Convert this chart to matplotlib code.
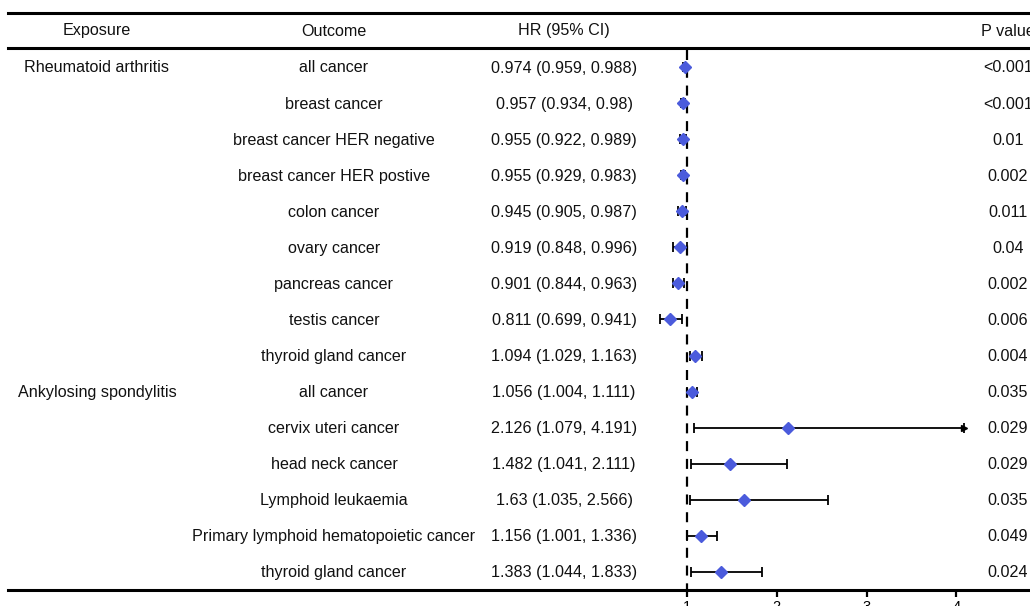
import numpy as np
import matplotlib
matplotlib.use('Agg')
import matplotlib.pyplot as plt

plt.rcParams['font.family'] = ['Liberation Sans', 'DejaVu Sans']

# Table data
exposure = ['Rheumatoid arthritis', '', '', '', '', '', '', '', '',
            'Ankylosing spondylitis', '', '', '', '', '']
outcome = ['all cancer', 'breast cancer', 'breast cancer HER negative', 'breast cancer HER postive',
           'colon cancer', 'ovary cancer', 'pancreas cancer', 'testis cancer', 'thyroid gland cancer',
           'all cancer', 'cervix uteri cancer', 'head neck cancer', 'Lymphoid leukaemia',
           'Primary lymphoid hematopoietic cancer', 'thyroid gland cancer']
hr = [0.974, 0.957, 0.955, 0.955, 0.945, 0.919, 0.901, 0.811, 1.094,
      1.056, 2.126, 1.482, 1.63, 1.156, 1.383]
lower = [0.959, 0.934, 0.922, 0.929, 0.905, 0.848, 0.844, 0.699, 1.029,
         1.004, 1.079, 1.041, 1.035, 1.001, 1.044]
upper = [0.988, 0.98, 0.989, 0.983, 0.987, 0.996, 0.963, 0.941, 1.163,
         1.111, 4.191, 2.111, 2.566, 1.336, 1.833]
hr_text = ['0.974 (0.959, 0.988)', '0.957 (0.934, 0.98)', '0.955 (0.922, 0.989)', '0.955 (0.929, 0.983)',
           '0.945 (0.905, 0.987)', '0.919 (0.848, 0.996)', '0.901 (0.844, 0.963)', '0.811 (0.699, 0.941)',
           '1.094 (1.029, 1.163)', '1.056 (1.004, 1.111)', '2.126 (1.079, 4.191)', '1.482 (1.041, 2.111)',
           '1.63 (1.035, 2.566)', '1.156 (1.001, 1.336)', '1.383 (1.044, 1.833)']
pvals = ['<0.001', '<0.001', '0.01', '0.002', '0.011', '0.04', '0.002', '0.006', '0.004',
         '0.035', '0.029', '0.029', '0.035', '0.049', '0.024']
headers = ['Exposure', 'Outcome', 'HR (95% CI)', 'P value']
xticks = [1, 2, 3, 4]
clip_max = 4.09

W, H = 1030, 606
fig = plt.figure(figsize=(W / 100, H / 100), dpi=100)
ax = fig.add_axes([0, 0, 1, 1])

# pixel mapping: value 1 at 687 px, 89.8 px per unit; row 0 at 67 px, 36.07 px per row
px_unit = 89.8
xmin = 1 - 687 / px_unit
xmax = 1 + (W - 687) / px_unit
row_h = 36.07
ax.set_xlim(xmin, xmax)
ax.set_ylim((H - 67) / row_h, -67 / row_h)

n = len(hr)
rows = np.arange(n)
tr = ax.get_yaxis_transform()
fs = 11.6
tc = '#111111'
dy = 1.0 / row_h  # nudge text one pixel down

# columns (x in figure pixels)
col_x = [97, 334, 564, 1008]
for cx, h in zip(col_x, headers):
    ax.text(cx / W, (30 - 67) / row_h + dy, h, transform=tr, ha='center', va='center', fontsize=fs, color=tc)
for i in range(n):
    ax.text(col_x[0] / W, i + dy, exposure[i], transform=tr, ha='center', va='center', fontsize=fs, color=tc)
    ax.text(col_x[1] / W, i + dy, outcome[i], transform=tr, ha='center', va='center', fontsize=fs, color=tc)
    ax.text(col_x[2] / W, i + dy, hr_text[i], transform=tr, ha='center', va='center', fontsize=fs, color=tc)
    ax.text(col_x[3] / W, i + dy, pvals[i], transform=tr, ha='center', va='center', fontsize=fs, color=tc)

# table rules
for ypx in [12.5, 48]:
    ax.plot([8 / W, 1], [(ypx - 67) / row_h] * 2, transform=tr, color='black', lw=2.2, clip_on=False)

# reference line
ax.plot([1, 1], [(50 - 67) / row_h, (590 - 67) / row_h], color='black', lw=1.6, ls=(0, (4.5, 3.5)))

# error bars and points
hr = np.array(hr)
lo = np.array(lower)
up = np.minimum(np.array(upper), clip_max)
ax.errorbar(hr, rows, xerr=[hr - lo, up - hr], fmt='none', ecolor='black', elinewidth=1.3,
            capsize=3.8, capthick=1.3, zorder=2)
for i in range(n):
    if upper[i] > clip_max:
        ax.plot(clip_max, rows[i], marker='>', color='black', ms=5, zorder=3)
ax.plot(hr, rows, ls='none', marker='D', ms=6.3, color='#4b5bdc', mec='#4b5bdc', zorder=4)

# x axis
for s in ['top', 'left', 'right']:
    ax.spines[s].set_visible(False)
ax.spines['bottom'].set_position(('data', (590 - 67) / row_h))
ax.spines['bottom'].set_bounds(xmin + 8 / px_unit, xmax)
ax.spines['bottom'].set_linewidth(2.2)
ax.set_yticks([])
ax.set_xticks(xticks)
ax.set_xticklabels([str(t) for t in xticks])
ax.tick_params(axis='x', direction='out', length=5, width=1.6, labelsize=10.5, pad=2, colors='black')

fig.savefig('out.png', dpi=100)
